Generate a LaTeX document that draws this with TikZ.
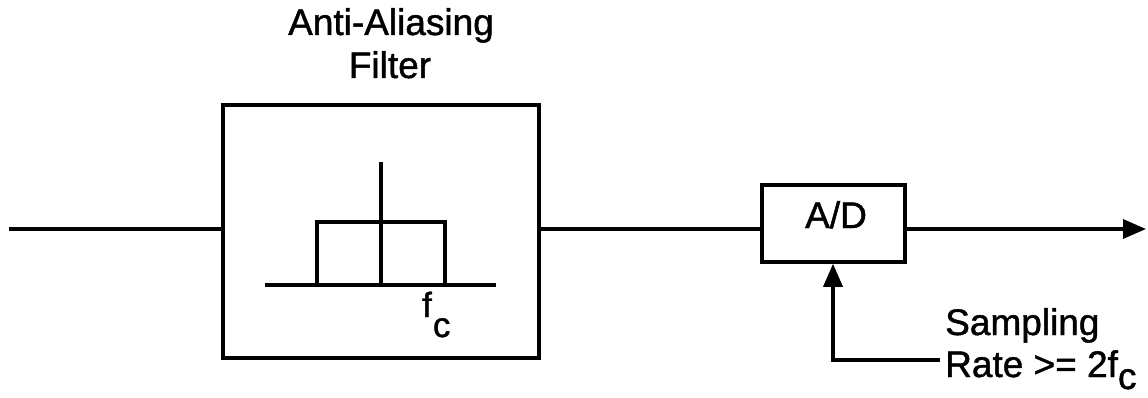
\documentclass[tikz,border=0pt]{standalone}
\usepackage{fontspec}
\setmainfont{Liberation Sans}
\newfontfamily\medfont{Liberation Sans}[FakeBold=1.2]
\usetikzlibrary{arrows.meta}
\begin{document}
\begin{tikzpicture}[x=1pt,y=-1pt,
  wire/.style={line width=3.3pt},
  blk/.style={draw,line width=3.5pt,inner sep=0pt},
  lbl/.style={font=\medfont\fontsize{37}{40}\selectfont,inner sep=0pt,anchor=base},
  tip/.style={-{Triangle[length=23pt,width=19pt]}}]
\useasboundingbox (0,0) rectangle (1148,398);
% blocks
\node[blk,minimum width=316pt,minimum height=253pt] (filt) at (381,231.5) {};
\node[blk,minimum width=143pt,minimum height=77pt] (ad) at (833.5,223.5) {};
\node[lbl] (adt) at (836,228) {A/D};
% title
\node[lbl] (t1) at (391,35) {Anti-Aliasing};
\node[lbl] (t2) at (390,78) {Filter};
% inner filter sketch
\draw[line width=3.3pt] (265,285) -- (496,285);
\draw[line width=3.3pt] (317,285) -- (317,222) -- (445,222) -- (445,285);
\draw[line width=3.3pt] (381,162) -- (381,285);
\node[lbl,anchor=base west] (fc) at (422,317) {\fontsize{35}{38}\selectfont f\kern1pt\raisebox{-20pt}{c}};
% connectors
\coordinate (in) at (9,229);
\coordinate (out) at (1146,229);
\coordinate (ctl) at (940,360);
\draw[wire] (in) -- (filt.west |- in);
\draw[wire] (filt.east |- in) -- (ad.west |- in);
\draw[wire,tip] (ad.east |- in) -- (out);
\draw[wire,tip] (ctl) -- (833,360) -- (ad.south -| 833,0);
% sampling label
\node[lbl,anchor=base west] (s1) at (945,335) {Sampling};
\node[lbl,anchor=base west] (s2) at (945,377) {Rate >= 2f\raisebox{-12pt}{c}};
\end{tikzpicture}
\end{document}
